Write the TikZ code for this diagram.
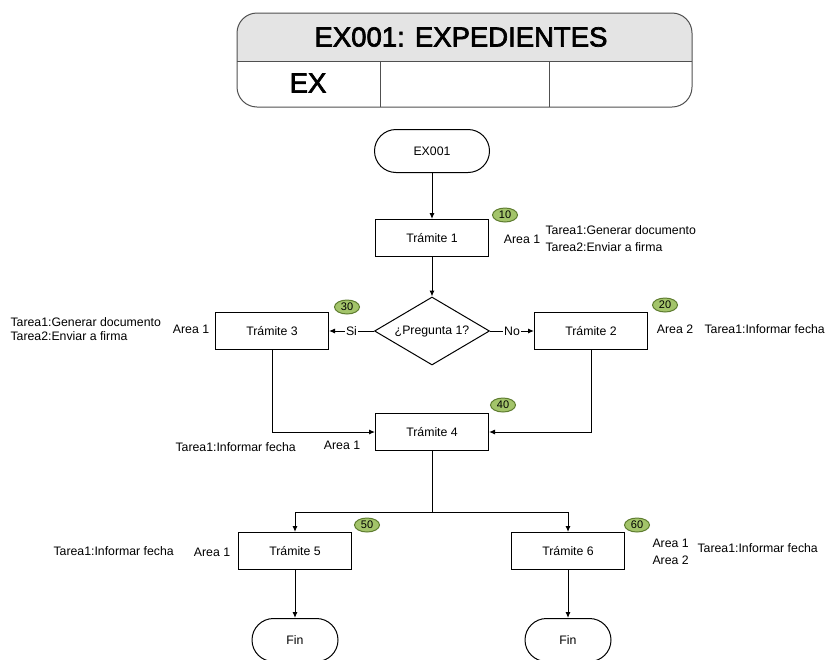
\documentclass[tikz,border=0pt]{standalone}
\usepackage{fontspec}
\setmainfont{Liberation Sans}
\newfontfamily\headfont[FakeBold=2.5]{Liberation Sans}
\usetikzlibrary{arrows.meta,shapes.geometric,shapes.misc}
\definecolor{bandgray}{HTML}{E4E4E4}
\definecolor{badgefill}{HTML}{A3C46A}
\definecolor{badgeedge}{HTML}{5E7C30}
\definecolor{framegray}{HTML}{505050}
\tikzset{
  proc/.style={draw, rectangle, minimum width=113pt, minimum height=37pt, inner sep=0pt, font=\fontsize{12.3}{14}\selectfont},
  term/.style={draw, rounded rectangle, minimum width=#1, minimum height=43pt, inner sep=0pt, font=\fontsize{12.3}{14}\selectfont},
  decision/.style={draw, diamond, shape aspect=1.7, minimum width=115pt, minimum height=68pt, inner sep=0pt, font=\fontsize{12.3}{14}\selectfont},
  badge/.style={draw=badgeedge, fill=badgefill, ellipse, minimum width=25pt, minimum height=14pt, inner sep=0pt, font=\fontsize{11}{12}\selectfont},
  lbl/.style={inner sep=0pt, font=\fontsize{12.3}{14}\selectfont},
  arr/.style={-{Latex[length=6pt,width=5pt]}},
  edgelbl/.style={fill=white, inner sep=1pt, font=\fontsize{12.3}{14}\selectfont},
  headtext/.style={inner sep=0pt, font=\headfont\fontsize{27.5}{30}\selectfont}
}
\begin{document}
\begin{tikzpicture}[x=1pt, y=-1pt, line width=1pt]
\useasboundingbox (0,0) rectangle (829,659);
\clip (0,0) rectangle (829,659);
% header
\begin{scope}
  \clip[rounded corners=20pt] (237,13) rectangle (692,107);
  \fill[bandgray] (237,13) rectangle (692,61);
\end{scope}
\draw[framegray, rounded corners=20pt] (237,13) rectangle (692,107);
\draw[framegray] (237,61) -- (692,61);
\draw[framegray] (380,61) -- (380,107);
\draw[framegray] (549,61) -- (549,107);
\node[headtext] (title) at (461,37) {EX001: EXPEDIENTES};
\node[headtext] (ex) at (308,83) {EX};

% flow nodes
\node[term=115pt] (start) at (432,151) {EX001};
\node[proc] (t1) at (432,238) {Trámite 1};
\node[decision] (q) at (432,331) {¿Pregunta 1?};
\node[proc] (t3) at (272,331) {Trámite 3};
\node[proc] (t2) at (591,331) {Trámite 2};
\node[proc] (t4) at (432,432) {Trámite 4};
\node[proc] (t5) at (295,551) {Trámite 5};
\node[proc] (t6) at (568,551) {Trámite 6};
\node[term=86pt] (fin1) at (295,640) {Fin};
\node[term=86pt] (fin2) at (568,640) {Fin};
\coordinate (split) at (432,512);

% connectors
\draw[arr] (start) -- (t1);
\draw[arr] (t1) -- (q);
\draw[arr] (q.west) -- node[edgelbl] {Si} (t3.east);
\draw[arr] (q.east) -- node[edgelbl] {No} (t2.west);
\draw[arr] (t3.south) |- (t4.west);
\draw[arr] (t2.south) |- (t4.east);
\draw (t4.south) -- (split);
\draw[arr] (split) -| (t5.north);
\draw[arr] (split) -| (t6.north);
\draw[arr] (t5) -- (fin1);
\draw[arr] (t6) -- (fin2);

% badges
\node[badge] (b10) at (505,215) {10};
\node[badge] (b30) at (347,307) {30};
\node[badge] (b20) at (665,305) {20};
\node[badge] (b40) at (503,405) {40};
\node[badge] (b50) at (367,525) {50};
\node[badge] (b60) at (637,525) {60};

% annotations
\node[lbl] (a1) at (522,239) {Area 1};
\node[lbl, anchor=west, align=left, font=\fontsize{12.3}{16.5}\selectfont] (k1) at (545,238.5) {Tarea1:Generar documento\\Tarea2:Enviar a firma};
\node[lbl] (a3) at (191,329) {Area 1};
\node[lbl, anchor=west, align=left, font=\fontsize{12.3}{14}\selectfont] (k3) at (10,329) {Tarea1:Generar documento\\Tarea2:Enviar a firma};
\node[lbl] (a2) at (675,329) {Area 2};
\node[lbl, anchor=west] (k2) at (704,329) {Tarea1:Informar fecha};
\node[lbl] (a4) at (342,445) {Area 1};
\node[lbl, anchor=west] (k4) at (175,447) {Tarea1:Informar fecha};
\node[lbl] (a5) at (212,552) {Area 1};
\node[lbl, anchor=west] (k5) at (53,551) {Tarea1:Informar fecha};
\node[lbl, anchor=west, align=left, font=\fontsize{12.3}{17}\selectfont] (a6) at (652,551.5) {Area 1\\Area 2};
\node[lbl, anchor=west] (k6) at (697,548) {Tarea1:Informar fecha};
\end{tikzpicture}
\end{document}
